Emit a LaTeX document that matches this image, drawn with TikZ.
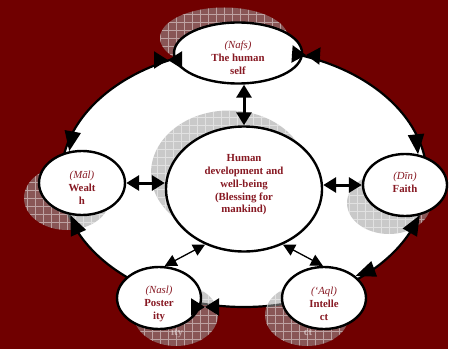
\documentclass[tikz,border=0pt]{standalone}
\usepackage{fontspec}
\setmainfont{Liberation Serif}
\usetikzlibrary{shapes.geometric,arrows.meta}

\definecolor{bgred}{RGB}{112,0,0}
\definecolor{textred}{RGB}{135,25,35}

\newcommand{\term}[1]{{\normalfont\itshape #1}}

\tikzstyle{ringline} = [draw=black, fill=white, line width=2.2pt]
\tikzstyle{goal} = [draw=black, fill=white, ellipse, line width=2.4pt, inner sep=0pt,
    minimum width=84pt, minimum height=62pt]
\tikzstyle{goaltext} = [align=center, inner sep=0pt, text=textred,
    font=\fontsize{10.8}{12.8}\selectfont\bfseries]
\tikzstyle{goalshadow} = [goal, draw=none, fill=black!38, fill opacity=0.55,
    path picture={\draw [white, draw opacity=0.45, line width=0.5pt, step=8pt]
      (path picture bounding box.south west) grid (path picture bounding box.north east);}]
\tikzstyle{ghost} = [goaltext, text=white, text opacity=0.5]
\tikzstyle{hubarrow} = [{Triangle[length=13pt,width=15pt]}-{Triangle[length=13pt,width=15pt]},
    line width=3pt]
\tikzstyle{linkarrow} = [{Triangle[length=12pt,width=12pt]}-{Triangle[length=12pt,width=12pt]},
    line width=1.3pt]
\tikzstyle{cycletip} = [-{Triangle[length=20pt,width=16pt]}, line width=2.2pt]
\tikzstyle{bowtip} = [-{Triangle[length=14pt,width=17pt]}, line width=2.2pt]

\begin{document}
\begin{tikzpicture}[x=1pt, y=1pt]
          \useasboundingbox (0,0) rectangle (457,349);
          \fill [bgred] (0,0) rectangle (448,349);
          \coordinate (ringc) at (244,171);
          \draw [ringline] (ringc) ellipse [x radius=183pt, y radius=129pt];

          \node (nafsshd) [goalshadow, minimum width=128pt, minimum height=61pt] at (224,311) {};
          \node (hubshd) [goalshadow, minimum width=156pt, minimum height=125pt] at (229,176) {};
          \node (malshd) [goalshadow, minimum width=86pt, minimum height=64pt] at (67,151) {};
          \node (dinshd) [goalshadow] at (389,146) {};
          \node (naslshd) [goalshadow] at (176,34) {};
          \node (aqlshd) [goalshadow] at (307,34) {};
          \node (naslghost) [ghost] at (177,16) {ity};
          \node (aqlghost) [ghost] at (308,16) {ct};

          \node (nafs) [goal, minimum width=128pt, minimum height=61pt] at (238,296) {};
          \node (hub) [goal, minimum width=156pt, minimum height=125pt] at (244,160) {};
          \node (mal) [goal, minimum width=86pt, minimum height=64pt] at (82,166) {};
          \node (din) [goal] at (405,164) {};
          \node (nasl) [goal] at (159,51) {};
          \node (aql) [goal] at (324,51) {};

          \node (nafstext) [goaltext] at (238,291) {\term{(Nafs)}\\The human\\self};
          \node (hubtext) [goaltext] at (244,164)
              {Human\\development and\\well-being\\(Blessing for\\mankind)};
          \node (maltext) [goaltext] at (82,161) {\term{(Māl)}\\Wealt\\h};
          \node (dintext) [goaltext] at (405,167) {\term{(Dīn)}\\Faith};
          \node (nasltext) [goaltext] at (159,45) {\term{(Nasl)}\\Poster\\ity};
          \node (aqltext) [goaltext] at (324,45) {\term{(‘Aql)}\\Intelle\\ct};

          \draw [hubarrow] (hub.north |- nafs.south) -- (hub.north);
          \draw [hubarrow] (mal.east) -- (mal.east -| hub.west);
          \draw [hubarrow] (din.west) -- (din.west -| hub.east);
          \draw [linkarrow] (nasl.80) -- (hub.235);
          \draw [linkarrow] (aql.92) -- (hub.305);

          \path (ringc) ++(159.6:183pt and 129pt) coordinate (maltop);
          \path (ringc) ++(20:183pt and 129pt) coordinate (dintop);
          \path (ringc) ++(-24.7:183pt and 129pt) coordinate (dinbot);
          \path (ringc) ++(-45:183pt and 129pt) coordinate (aqltop);
          \path (ringc) ++(-155:183pt and 129pt) coordinate (malbot);
          \coordinate (nafsleft) at (168,289);
          \coordinate (nafsright) at (306,294);
          \coordinate (naslright) at (205,42);

          \draw [cycletip] (maltop) -- (mal.112);
          \draw [cycletip] (dintop) -- (din.67);
          \draw [cycletip] (dinbot) -- (din.296);
          \draw [cycletip] (aqltop) -- (aql.35);
          \draw [cycletip] (malbot) -- (mal.250);

          \draw [bowtip] ([xshift=-14pt]nafsleft) -- (nafsleft);
          \draw [bowtip] ([xshift=14pt]nafsleft) -- (nafsleft);
          \draw [bowtip] ([xshift=-14pt,yshift=1pt]nafsright) -- (nafsright);
          \draw [bowtip] ([xshift=14pt,yshift=-1pt]nafsright) -- (nafsright);
          \draw [bowtip] ([xshift=-13pt]naslright) -- (naslright);
          \draw [bowtip] ([xshift=13pt]naslright) -- (naslright);
        \end{tikzpicture}
\end{document}
